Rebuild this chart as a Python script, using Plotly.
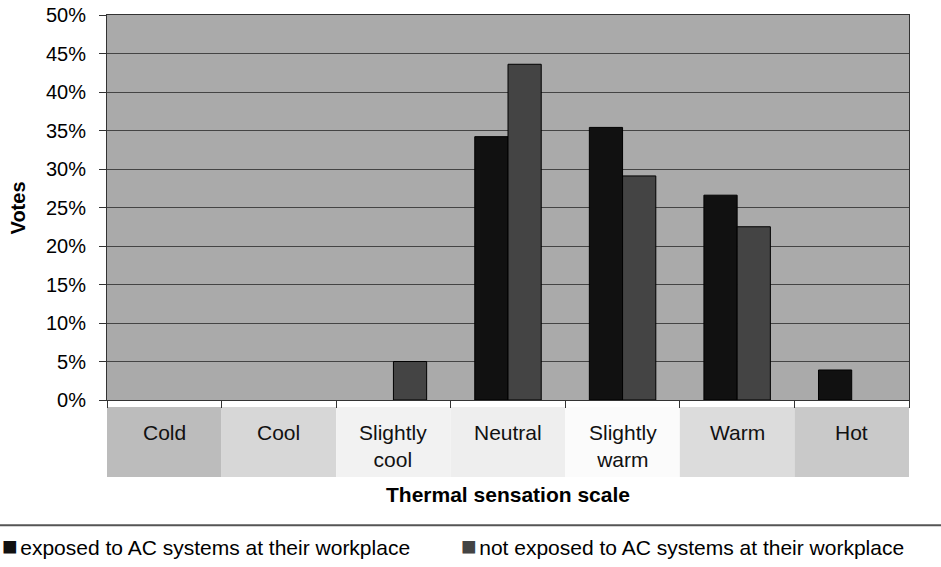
import plotly.graph_objects as go

# data
categories = ["Cold", "Cool", "Slightly cool", "Neutral", "Slightly warm", "Warm", "Hot"]
cat_labels = ["Cold", "Cool", "Slightly<br>cool", "Neutral", "Slightly<br>warm", "Warm", "Hot"]
cat_shades = ["#bcbcbc", "#d7d7d7", "#f2f2f2", "#eeeeee", "#fbfbfb", "#dcdcdc", "#c9c9c9"]
series_names = ["exposed to AC systems at their workplace",
                "not exposed to AC systems at their workplace"]
exposed = [0, 0, 0, 34.2, 35.4, 26.6, 3.9]
not_exposed = [0, 0, 5.0, 43.6, 29.1, 22.5, 0]
series_colors = ["#111111", "#444444"]

FONT = "Liberation Sans, Arial, sans-serif"

fig = go.Figure()
for name, vals, col in zip(series_names, [exposed, not_exposed], series_colors):
    # no outline where there are no votes
    fig.add_trace(go.Bar(x=categories, y=vals, name=name, marker_color=col,
                         marker_line_color="#000000",
                         marker_line_width=[1 if v > 0 else 0 for v in vals]))

# shaded boxes with the category names under the axis (labels top aligned)
for i, (lab, shade) in enumerate(zip(cat_labels, cat_shades)):
    fig.add_shape(type="rect", xref="x", yref="paper", x0=i - 0.5, x1=i + 0.5,
                  y0=-0.2, y1=-0.018, fillcolor=shade, line_width=0, layer="below")
    fig.add_annotation(x=categories[i], y=-0.05, xref="x", yref="paper", text=lab,
                       showarrow=False, font=dict(size=21, color="#111111"), yanchor="top")

# axis titles
fig.add_annotation(x=0.5, y=-0.245, xref="paper", yref="paper", text="<b>Thermal sensation scale</b>",
                   showarrow=False, font=dict(size=21, color="#000000"), yanchor="middle")
fig.add_annotation(x=-0.111, y=0.5, xref="paper", yref="paper", text="<b>Votes</b>", textangle=-90,
                   showarrow=False, font=dict(size=20, color="#000000"), xanchor="center")

# legend line and legend entries
fig.add_shape(type="line", xref="paper", yref="paper", x0=-0.14, x1=1.05, y0=-0.325, y1=-0.325,
              line=dict(color="#555555", width=2))
legend_x = [-0.134, 0.439]
for name, col, lx in zip(series_names, series_colors, legend_x):
    fig.add_annotation(x=lx, y=-0.378, xref="paper", yref="paper", xanchor="left", yanchor="middle",
                       text="<span style='color:%s;font-size:26px'>■</span>"
                            "<span style='font-size:9px'> </span>%s" % (col, name),
                       showarrow=False, font=dict(size=21, color="#000000"))

fig.update_layout(
    width=941, height=567,
    margin=dict(l=107, r=32, t=15, b=167),
    paper_bgcolor="white", plot_bgcolor="#aaaaaa",
    barmode="group", bargap=0.42, bargroupgap=0,
    showlegend=False,
    font=dict(family=FONT, size=19, color="#000000"),
)
fig.update_xaxes(showticklabels=False, ticks="outside", tickson="boundaries", ticklen=7,
                 tickcolor="#333333", showline=True, linecolor="#333333", linewidth=1,
                 mirror=True, showgrid=False, automargin=False)
fig.update_yaxes(range=[0, 50], dtick=5, ticksuffix="%", ticks="outside", ticklen=7,
                 tickcolor="#333333", showline=True, linecolor="#333333", linewidth=1, mirror=True,
                 gridcolor="#444444", gridwidth=1, zeroline=False, ticklabelstandoff=9,
                 tickfont=dict(size=20), automargin=False)

fig.write_html("out.html", config={"displayModeBar": False},
               post_script="document.body.style.margin='0';")
